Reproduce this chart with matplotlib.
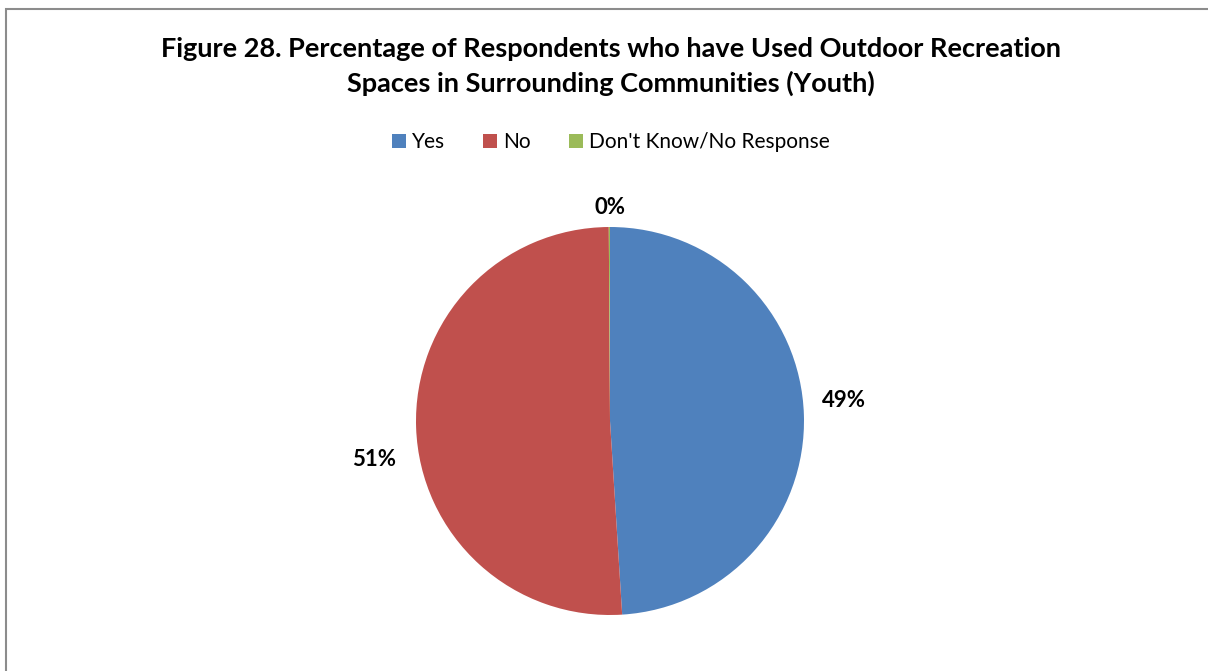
import matplotlib
matplotlib.use("Agg")
import matplotlib.pyplot as plt
from matplotlib.patches import Rectangle

categories = ["Yes", "No", "Don't Know/No Response"]
values = [49.0, 50.9, 0.1]
colors = ["#4F81BD", "#C0504D", "#9BBB59"]
title = "Figure 28. Percentage of Respondents who have Used Outdoor Recreation\nSpaces in Surrounding Communities (Youth)"

W, H = 1208, 671
fig = plt.figure(figsize=(W / 100, H / 100), dpi=100)
fig.patch.set_facecolor("white")

# chart area border (runs off the right and bottom edges)
fig.patches.append(Rectangle((5.5 / W, -0.05), 1.2, 1 - 9.5 / H + 0.05,
                             transform=fig.transFigure, fill=False,
                             edgecolor="#8c8c8c", linewidth=1.5))

fig.text(611 / W, 1 - 66.5 / H, title, ha="center", va="center",
         fontsize=19.5, fontweight="bold", family="Lato", linespacing=1.43)

cx, cy, r = 610, 421, 194
ax = fig.add_axes([(cx - r) / W, (H - cy - r) / H, 2 * r / W, 2 * r / H])
wedges, _, autotexts = ax.pie(values, colors=colors, startangle=90,
                              counterclock=False, radius=1,
                              autopct=lambda p: f"{p:.0f}%",
                              wedgeprops=dict(linewidth=0))
ax.set_xlim(-1, 1)
ax.set_ylim(-1, 1)
ax.axis("off")

label_pos = [(1.208, 0.108), (-1.216, -0.201), (0.0, 1.098)]
for t, (x, y) in zip(autotexts, label_pos):
    t.set_position((x, y))
    t.set_ha("center")
    t.set_va("center")
    t.set_fontsize(16)
    t.set_fontweight("bold")
    t.set_family("Lato")
    t.set_color("black")

leg = fig.legend(wedges, categories, loc="center", bbox_to_anchor=(611 / W, 1 - 142 / H),
                 ncol=3, frameon=False, prop=dict(family="Lato", size=15),
                 handlelength=0.65, handleheight=0.65, handletextpad=0.3,
                 columnspacing=1.85)

fig.savefig("out.png", dpi=100, facecolor="white")
